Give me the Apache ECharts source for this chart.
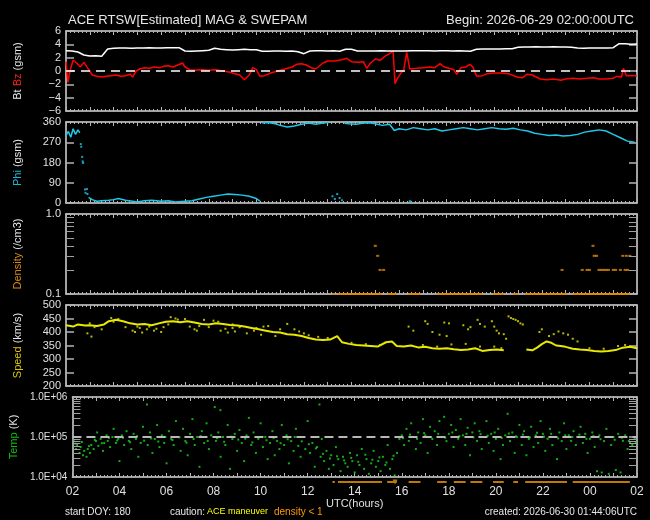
<!DOCTYPE html>
<html><head><meta charset="utf-8">
<script src="https://cdn.jsdelivr.net/npm/echarts@6/dist/echarts.min.js"></script>
<style>html,body{margin:0;padding:0;background:#000;}#c{width:650px;height:520px;}</style>
</head><body><div id="c"></div>
<script>
// ---------------- DATA (hours after 02:00 UTC) ----------------
const xTickLabels = ['02','04','06','08','10','12','14','16','18','20','22','00','02'];
const btStep = 0.25;
const btValues = [3.05,3.0,2.85,2.4,2.25,2.3,2.2,3.3,3.4,3.45,3.45,3.4,3.45,3.45,3.5,3.45,3.45,3.5,3.5,3.5,
 3.0,2.95,3.0,3.05,3.1,3.4,3.25,3.2,3.15,3.2,3.25,3.2,3.2,2.95,2.95,3.0,3.0,2.95,3.0,2.9,
 2.6,3.0,3.05,3.05,3.0,3.05,2.95,3.25,3.25,3.0,3.0,3.0,3.0,3.05,3.0,3.0,3.0,3.0,3.05,3.05,
 3.05,3.05,3.0,3.05,3.05,3.0,3.05,3.0,2.95,3.25,3.3,3.3,3.3,3.3,3.35,3.35,3.55,3.6,3.6,3.65,
 3.6,3.6,3.65,3.6,3.6,3.55,3.45,3.4,3.45,3.45,3.45,3.45,3.5,4.1,4.1,4.0,4.05];
const bzPoints = [[0,1.4],[0.08,-1.7],[0.18,0.2],[0.3,1.6],[0.45,1.2],[0.6,0.6],[0.75,1.3],[0.9,0.5],[1.0,0.0],[1.1,-0.6],
 [1.3,-0.8],[1.5,-0.9],[1.7,-0.8],[1.9,-0.7],[2.1,-0.6],[2.3,-0.8],[2.5,-0.7],[2.7,-0.5],[2.8,-0.9],[2.95,0.0],
 [3.1,0.3],[3.3,0.5],[3.5,0.4],[3.7,0.6],[3.95,0.5],[4.1,0.7],[4.3,0.8],[4.5,0.6],[4.7,0.9],[4.9,1.2],
 [5.0,0.6],[5.2,0.2],[5.4,0.1],[5.7,0.2],[6.0,0.1],[6.3,0.2],[6.6,0.0],[6.9,-0.2],[7.1,-0.4],[7.3,-0.6],
 [7.5,-1.3],[7.7,-0.6],[7.85,0.5],[8.0,0.2],[8.15,-0.8],[8.35,-0.7],[8.6,-0.3],[8.9,0.0],[9.2,0.3],[9.5,0.6],
 [9.7,1.0],[9.9,1.1],[10.1,0.9],[10.3,0.5],[10.5,0.3],[10.8,1.2],[11.0,1.5],[11.3,1.5],[11.6,1.7],[11.8,1.9],
 [12.0,1.4],[12.3,1.3],[12.5,1.4],[12.64,0.4],[12.8,1.2],[13.0,1.8],[13.2,1.6],[13.4,2.2],[13.6,2.6],[13.75,3.0],
 [13.83,-1.9],[13.95,-1.0],[14.1,-0.2],[14.2,0.2],[14.32,2.8],[14.45,0.3],[14.74,0.4],[15.0,0.5],[15.3,0.6],[15.5,0.5],
 [15.72,1.1],[15.9,0.6],[16.1,0.4],[16.3,0.2],[16.42,-0.5],[16.6,0.5],[16.8,0.6],[16.98,1.0],[17.1,0.6],[17.26,-0.8],
 [17.5,-0.7],[17.7,-0.4],[18.0,-0.3],[18.3,-0.3],[18.6,-0.4],[18.95,-0.9],[19.2,-1.0],[19.37,-0.5],[19.6,-0.6],[19.93,-1.2],
 [20.2,-1.3],[20.5,-1.2],[20.8,-1.4],[21.0,-1.2],[21.33,-1.1],[21.6,-1.2],[21.9,-1.1],[22.17,-1.0],[22.4,-1.2],[22.7,-1.2],
 [23.0,-1.1],[23.15,-0.8],[23.35,-0.9],[23.43,0.4],[23.55,-0.7],[23.71,-0.7],[23.99,-0.7]];
const phiTrace = [[0,300],[0.1,318],[0.2,292],[0.3,330],[0.4,305],[0.5,325],[0.58,312],[0.6,'-'],
 [0.95,25],[1.1,15],[1.3,8],[1.5,10],[1.8,12],[2.0,15],[2.2,20],[2.5,12],[2.8,8],[3.0,5],[3.3,10],[3.6,12],
 [4.0,8],[4.3,10],[4.6,5],[5.0,8],[5.3,10],[5.6,18],[5.9,25],[6.2,30],[6.5,35],[6.8,40],[7.1,38],[7.4,35],
 [7.7,30],[8.0,20],[8.15,8],[8.2,'-'],
 [8.25,356],[8.5,358],[8.8,352],[9.0,345],[9.3,338],[9.6,342],[9.9,350],[10.2,355],[10.5,350],[10.8,355],[11.05,358],[11.1,'-'],
 [11.7,354],[11.9,352],[12.2,350],[12.5,355],[12.8,357],[13.0,352],[13.3,345],[13.6,350],[13.8,322],[14.0,330],
 [14.3,325],[14.6,335],[14.9,330],[15.2,325],[15.5,330],[15.8,320],[16.1,325],[16.4,330],[16.7,335],[17.0,330],
 [17.3,325],[17.6,330],[17.9,335],[18.2,330],[18.5,328],[18.8,332],[19.1,325],[19.4,320],[19.7,310],[20.0,305],
 [20.3,300],[20.6,302],[20.9,298],[21.2,300],[21.5,305],[21.8,315],[22.1,320],[22.4,325],[22.7,320],[23.0,305],
 [23.3,290],[23.6,275],[23.9,270]];
const phiSparse = [[0.62,262],[0.64,250],[0.68,205],[0.7,185],[0.72,178],[0.8,60],[0.82,45],[0.88,62],[0.9,40],
 [11.2,30],[11.3,18],[11.4,40],[11.5,22],[11.6,12],[14.45,8],[14.5,5]];
const densityFloor = [[11.2,0.1],[11.3,0.1],[11.35,'-'],[11.43,0.1],[13.28,0.1],[13.4,'-'],[13.5,0.1],[13.9,0.1],[14.1,'-'],
 [14.4,0.1],[14.9,0.1],[15.2,'-'],[15.6,0.1],[17.5,0.1],[17.7,'-'],[17.95,0.1],[18.4,0.1],[18.6,'-'],[18.8,0.1],[19.0,0.1],
 [19.15,'-'],[19.3,0.1],[21.06,0.1],[21.2,'-'],[21.3,0.1],[23.7,0.1]];
const densityPoints = [[13.0,0.4],[13.1,0.3],[13.2,0.2],[13.35,0.2],[20.85,0.2],[21.7,0.2],[21.9,0.2],[22.0,0.2],[22.15,0.4],
 [22.2,0.3],[22.3,0.3],[22.4,0.2],[22.5,0.2],[22.6,0.2],[22.7,0.2],[22.8,0.2],[23.0,0.2],[23.1,0.2],[23.3,0.2],[23.4,0.3],
 [23.5,0.2],[23.55,0.3],[23.6,0.2],[23.7,0.3]];
const speedBand = [[0,425],[0.3,420],[0.5,428],[0.8,424],[1.0,425],[1.3,422],[1.6,428],[1.8,440],[2.1,445],[2.4,440],
 [2.7,432],[3.0,428],[3.3,430],[3.6,425],[3.9,432],[4.2,438],[4.5,440],[4.8,436],[5.1,440],[5.4,435],[5.7,430],[6.0,428],
 [6.3,432],[6.6,430],[6.9,426],[7.2,424],[7.5,420],[7.8,415],[8.1,410],[8.4,405],[8.7,400],[9.0,398],[9.3,392],[9.6,390],
 [9.9,385],[10.2,378],[10.5,372],[10.8,370],[11.1,372],[11.4,385],[11.6,362],[11.9,356],[12.2,352],[12.5,350],[12.8,348],
 [13.1,346],[13.45,362],[13.7,365],[13.9,348],[14.2,346],[14.5,350],[14.8,343],[15.1,345],[15.4,340],[15.7,338],[16.0,340],
 [16.3,336],[16.6,333],[16.9,335],[17.2,340],[17.5,330],[17.8,333],[18.1,335],[18.4,332],[18.55,'-'],[19.35,335],[19.6,332],
 [19.8,342],[20.0,355],[20.2,365],[20.4,360],[20.6,350],[20.8,348],[21.0,345],[21.3,338],[21.6,335],[21.9,333],[22.2,330],
 [22.5,328],[22.8,330],[23.1,333],[23.4,342],[23.7,345],[24.0,340]];
const speedScatter = [[0.9,395],[1.07,383],[1.2,418],[1.5,410],[1.9,452],[2.2,448],[2.5,418],[2.8,405],[2.9,400],[3.1,415],
 [3.2,398],[3.4,410],[3.5,420],[3.7,405],[3.8,412],[4.0,400],[4.1,418],[4.4,455],[4.6,450],[4.7,446],[5.0,448],[5.2,420],
 [5.4,410],[5.5,405],[5.8,445],[6.0,418],[6.2,442],[6.4,438],[6.5,405],[6.7,412],[6.8,398],[7.0,415],[7.1,402],[7.3,418],
 [7.6,395],[7.9,405],[8.2,390],[8.3,420],[8.5,422],[8.8,385],[9.0,410],[9.3,430],[9.6,410],[9.8,402],[10.0,395],[10.2,388],
 [10.6,382],[11.0,378],[14.4,420],[14.6,405],[15.1,440],[15.2,430],[15.4,400],[15.7,390],[15.9,435],[16.0,385],[16.1,432],
 [16.7,425],[16.9,410],[17.0,418],[17.3,445],[17.4,430],[17.6,420],[17.9,440],[18.0,420],[18.1,405],[18.2,395],[18.4,392],
 [18.5,375],[18.6,458],[18.7,452],[18.8,448],[18.9,445],[19.0,440],[19.1,432],[19.2,428],[19.9,400],[20.0,410],[20.3,385],
 [20.5,392],[20.7,402],[20.9,395],[21.1,390],[21.3,375],[21.5,365],[15.0,352],[15.6,346],[16.2,354],[16.8,356],[17.4,346],
 [18.0,346],[18.3,340],[22.0,340],[22.6,338],[23.2,348],[23.5,352],[12.0,360],[12.6,355],[13.2,352],[1.0,432],[2.0,438],
 [3.0,420],[4.3,428],[5.6,422],[7.0,428],[8.0,415]];
const tempPoints = [[0.05,7.9e4],[0.15,5.0e4],[0.2,6.3e4],[0.3,4.0e4],[0.35,5.6e4],[0.45,3.5e4],[0.5,4.5e4],[0.6,3.2e4],
 [0.65,5.0e4],[0.75,4.0e4],[0.8,6.3e4],[0.9,5.0e4],[1.0,7.9e4],[1.05,1.3e5],[1.1,6.0e4],[1.2,9.0e4],[1.3,4.5e4],[1.35,7.1e4],
 [1.45,1.1e5],[1.5,8.0e4],[1.6,5.6e4],[1.7,1.0e5],[1.75,1.6e5],[1.85,7.1e4],[1.95,9.0e4],[2.0,2.5e4],[2.1,1.1e5],[2.2,6.3e4],
 [2.3,1.4e5],[2.4,8.0e4],[2.5,5.0e4],[2.6,1.2e5],[2.7,9.0e4],[2.8,3.2e4],[2.9,7.1e4],[3.0,1.8e5],[3.1,1.0e5],[3.17,6.5e5],
 [3.2,6.3e4],[3.3,1.3e5],[3.4,4.0e4],[3.5,8.9e4],[3.6,2.0e5],[3.7,5.6e4],[3.8,1.1e5],[3.9,7.1e4],[4.0,2.2e4],[4.1,1.4e5],
 [4.2,9.0e4],[4.3,6.3e4],[4.4,2.5e5],[4.5,1.0e5],[4.6,4.5e4],[4.7,1.6e5],[4.8,7.9e4],[4.9,3.5e4],[5.0,1.2e5],[5.1,2.8e5],
 [5.2,6.3e4],[5.3,1.0e5],[5.4,1.8e4],[5.5,1.4e5],[5.6,7.1e4],[5.7,2.2e5],[5.8,5.0e4],[5.9,1.1e5],[6.05,5.6e5],[6.1,8.0e4],
 [6.2,1.3e5],[6.29,4.7e5],[6.3,3.2e4],[6.4,1.0e5],[6.5,6.3e4],[6.6,2.0e5],[6.7,1.6e4],[6.8,8.9e4],[6.9,1.2e5],[7.0,4.5e4],
 [7.1,1.5e5],[7.2,7.1e4],[7.3,2.5e4],[7.4,1.1e5],[7.5,3.0e5],[7.6,6.3e4],[7.7,1.3e5],[7.8,4.0e4],[7.9,9.0e4],[8.0,2.2e5],
 [8.1,5.6e4],[8.2,1.0e5],[8.3,2.8e4],[8.4,7.1e4],[8.5,1.4e5],[8.6,3.5e4],[8.7,8.0e4],[8.8,5.0e4],[8.9,2.0e5],[9.0,6.3e4],
 [9.1,1.1e5],[9.2,2.2e4],[9.3,7.9e4],[9.4,4.5e4],[9.5,1.6e5],[9.6,6.0e4],[9.7,3.2e4],[9.8,1.0e5],[9.9,5.0e4],[10.0,2.5e5],
 [10.1,4.0e4],[10.2,7.1e4],[10.3,1.8e4],[10.4,5.6e4],[10.5,6.5e5],[10.55,3.2e4],[10.6,8.9e4],[10.7,2.5e4],[10.8,4.5e4],
 [10.9,1.6e4],[11.0,3.5e4],[11.1,2.0e4],[11.2,5.6e4],[11.3,2.8e4],[11.4,1.4e4],[11.5,3.2e4],[11.6,2.2e4],[11.7,1.8e4],
 [11.8,4.0e4],[11.9,2.5e4],[12.0,1.3e4],[12.1,3.5e4],[12.2,2.0e4],[12.3,5.0e4],[12.4,1.6e4],[12.5,2.8e4],[12.6,1.2e4],
 [12.7,2.2e4],[12.8,4.5e4],[12.9,1.8e4],[13.0,2.5e4],[13.1,1.4e4],[13.2,3.2e4],[13.3,2.0e4],[13.4,6.3e4],[13.5,1.6e4],
 [13.6,2.8e4],[13.7,1.1e4],[13.8,4.0e4],[13.9,8.9e4],[14.0,1.1e5],[14.1,6.3e4],[14.2,1.6e5],[14.3,8.0e4],[14.4,2.2e5],
 [14.5,1.0e5],[14.6,5.0e4],[14.7,1.3e5],[14.8,7.1e4],[14.9,2.8e5],[15.0,1.1e5],[15.1,4.0e4],[15.2,1.8e5],[15.3,8.9e4],
 [15.4,1.4e5],[15.5,6.3e4],[15.6,2.5e5],[15.7,1.0e5],[15.8,3.2e5],[15.9,7.9e4],[16.0,1.2e5],[16.1,2.0e5],[16.2,5.6e4],
 [16.3,1.5e5],[16.4,9.0e4],[16.5,2.8e5],[16.6,1.1e5],[16.7,6.3e4],[16.8,1.7e5],[16.9,3.5e4],[17.0,1.3e5],[17.1,2.2e5],
 [17.2,8.0e4],[17.3,1.4e5],[17.4,5.0e4],[17.5,1.0e5],[17.6,2.5e5],[17.7,7.1e4],[17.8,1.2e5],[17.9,4.5e4],[18.0,9.0e4],
 [18.1,1.6e5],[18.2,2.8e4],[18.3,6.3e4],[18.4,1.1e5],[18.5,3.8e5],[18.6,7.9e4],[18.7,1.3e5],[18.8,4.0e4],[18.9,1.0e5],
 [19.0,2.0e5],[19.1,6.3e4],[19.2,1.4e5],[19.3,3.5e4],[19.4,8.9e4],[19.5,1.8e5],[19.6,5.6e4],[19.7,1.1e5],[19.8,7.1e4],
 [19.9,2.5e5],[20.0,1.2e5],[20.1,4.5e4],[20.2,9.0e4],[20.3,1.6e5],[20.4,6.3e4],[20.5,1.0e5],[20.6,2.8e4],[20.7,1.3e5],
 [20.8,7.9e4],[20.9,2.2e5],[21.0,5.0e4],[21.1,1.1e5],[21.2,8.0e4],[21.3,1.4e5],[21.4,6.3e4],[21.5,1.0e5],[21.6,1.8e5],
 [21.7,7.1e4],[21.8,1.2e5],[21.9,4.0e4],[22.0,9.0e4],[22.1,1.3e5],[22.2,5.6e4],[22.3,1.4e4],[22.4,1.1e5],[22.5,1.3e4],
 [22.6,7.9e4],[22.7,1.6e5],[22.8,1.2e4],[22.9,6.3e4],[23.0,1.0e5],[23.1,1.5e4],[23.2,1.2e5],[23.3,1.3e4],[23.4,8.0e4],
 [23.5,1.1e5],[23.6,5.0e4],[23.7,7.1e4],[23.8,6.3e4],[23.9,9.0e4]];
const tempCore = [[0.12,6.8e4],[0.4,7.5e4],[0.7,5.9e4],[0.95,8.5e4],[1.25,7.0e4],[1.55,9.5e4],[1.9,8.2e4],[2.15,9.6e4],
 [2.45,7.4e4],[2.75,1.05e5],[3.05,8.1e4],[3.35,9.2e4],[3.65,7.7e4],[3.95,1.0e5],[4.25,8.4e4],[4.55,9.8e4],[4.85,7.2e4],
 [5.15,8.9e4],[5.45,1.05e5],[5.75,8.0e4],[6.15,9.4e4],[6.45,7.6e4],[6.75,1.02e5],[7.05,8.6e4],[7.35,9.1e4],[7.65,7.3e4],
 [7.95,9.9e4],[8.25,8.3e4],[8.55,9.5e4],[8.85,7.0e4],[9.15,8.8e4],[9.45,1.0e5],[9.75,7.8e4],[10.05,6.6e4],[10.35,5.2e4],
 [10.65,3.8e4],[10.95,2.9e4],[11.25,3.3e4],[11.55,2.6e4],[11.85,3.0e4],[12.15,2.4e4],[12.45,3.6e4],[12.75,2.7e4],
 [13.05,3.1e4],[13.35,2.3e4],[13.65,3.4e4],[14.05,9.4e4],[14.35,1.15e5],[14.65,9.0e4],[14.95,1.25e5],[15.25,1.0e5],
 [15.55,1.2e5],[15.85,9.6e4],[16.15,1.3e5],[16.45,1.05e5],[16.75,1.2e5],[17.05,9.8e4],[17.35,1.18e5],[17.65,1.08e5],
 [17.95,1.3e5],[18.25,9.5e4],[18.55,1.22e5],[18.85,1.04e5],[19.15,1.15e5],[19.45,9.7e4],[19.75,1.28e5],[20.05,1.02e5],
 [20.35,1.2e5],[20.65,9.2e4],[20.95,1.1e5],[21.25,1.0e5],[21.55,1.15e5],[21.85,9.0e4],[22.15,1.05e5],[22.45,8.8e4],
 [22.75,1.0e5],[23.05,8.5e4],[23.35,9.6e4],[23.65,8.0e4],[23.95,7.5e4]];
const lowDensityFlag = [[11.2,0.5],[11.3,0.5],[11.35,'-'],[11.43,0.5],[13.28,0.5],[13.4,'-'],[13.5,0.5],[13.9,0.5],[14.1,'-'],
 [14.4,0.5],[14.9,0.5],[15.2,'-'],[15.6,0.5],[16.0,0.5],[16.1,'-'],[16.3,0.5],[16.8,0.5],[16.9,'-'],[17.0,0.5],[17.5,0.5],
 [17.7,'-'],[17.95,0.5],[18.4,0.5],[18.6,'-'],[18.8,0.5],[19.0,0.5],[19.15,'-'],[19.3,0.5],[21.06,0.5],[21.2,'-'],[21.3,0.5],[23.7,0.5]];
const maneuverMarks = [[13.83,0.5]];

// ---------------- STYLE ----------------
const FF = '"Liberation Sans", Arial, sans-serif';
const AX = '#d8d8d8', TK = '#b4b4b4', TX = '#e0e0e0';
const G = [[31,80],[122,81],[214,80],[305,81],[397,80]];
const grids = G.map(g => ({left:66, right:13, top:g[0], height:g[1]}));
grids.push({left:66, right:13, top:479, height:6});

const xAxes = [];
G.forEach((g,i) => {
  ['bottom','top'].forEach(pos => {
    const lab = (i === 4 && pos === 'bottom');
    xAxes.push({type:'value', gridIndex:i, position:pos, min:0, max:24, interval:1,
      axisLine:{show:true, onZero:false, lineStyle:{color:AX, width:1.5}},
      axisTick:{show:true, inside:true, length:4, lineStyle:{color:TK}},
      minorTick:{show:true, splitNumber:6, length:2, lineStyle:{color:TK}},
      splitLine:{show:false},
      name: lab ? 'UTC(hours)' : '', nameLocation:'middle', nameGap:21,
      nameTextStyle:{color:TX, fontSize:11, fontFamily:FF},
      axisLabel: lab ? {show:true, margin:9, color:TX, fontSize:12, fontFamily:FF, showMinLabel:true, showMaxLabel:true,
        formatter: v => (v % 2 === 0 ? xTickLabels[v/2] : '')} : {show:false}});
  });
});
xAxes.push({type:'value', gridIndex:5, min:0, max:24, show:false});

const richBase = {fontSize:11, fontFamily:FF};
const rich = {
  w:Object.assign({color:'#e8e8e8'}, richBase), r:Object.assign({color:'#ff2020'}, richBase),
  c:Object.assign({color:'#19b6d6'}, richBase), o:Object.assign({color:'#d88a10'}, richBase),
  y:Object.assign({color:'#d8c800'}, richBase), g:Object.assign({color:'#10c010'}, richBase)
};
const yCfg = [
  {type:'value', min:-6, max:6, interval:2, name:'{w|Bt} {r|Bz} {w|(gsm)}', fmt: v => String(v).replace('-', '\u2212')},
  {type:'value', min:0, max:360, interval:90, name:'{c|Phi} {w|(gsm)}', fmt: v => String(v)},
  {type:'log', min:0.1, max:1, name:'{o|Density} {w|(/cm3)}', fmt: v => v.toFixed(1)},
  {type:'value', min:200, max:500, interval:50, name:'{y|Speed} {w|(km/s)}', fmt: v => String(v)},
  {type:'log', min:1e4, max:1e6, name:'{g|Temp} {w|(K)}', fmt: v => '1.0E+' + String(Math.round(Math.log10(v))).padStart(2,'0')}
];
const yAxes = [];
yCfg.forEach((c,i) => {
  ['left','right'].forEach(pos => {
    const ax = {type:c.type, gridIndex:i, position:pos, min:c.min, max:c.max,
      axisLine:{show:true, onZero:false, lineStyle:{color:AX, width:1.5}},
      axisTick:{show:true, inside:true, length:8, lineStyle:{color:TK, width:1.5}},
      splitLine:{show:false},
      axisLabel: pos === 'left' ? {show:true, margin:5, color:TX, fontSize: i === 4 ? 10 : 11, fontFamily:FF,
        showMinLabel:true, showMaxLabel:true, formatter:c.fmt} : {show:false}};
    if (c.interval) ax.interval = c.interval;
    if (c.type === 'log') ax.logBase = 10;
    if (pos === 'left') {
      ax.name = c.name; ax.nameLocation = 'middle'; ax.nameGap = 43;
      ax.nameTextStyle = {rich:rich, fontSize:11, fontFamily:FF};
    }
    yAxes.push(ax);
  });
});
yAxes.push({type:'value', gridIndex:5, min:0, max:1, show:false});

// minor log ticks (axis decoration) as short mark-line segments at both sides
function logMinorTicks(decades) {
  const out = [];
  decades.forEach(d => {
    for (let k = 2; k <= 9; k++) {
      const m = k * d;
      out.push([{coord:[0, m]}, {coord:[0.34, m]}]);
      out.push([{coord:[23.66, m]}, {coord:[24, m]}]);
    }
  });
  return out;
}
const tickLine = {color:'#a0a0a0', width:1, type:'solid'};

const series = [
  {type:'line', name:'Bt', xAxisIndex:0, yAxisIndex:0, data: btValues.map((v,i) => [i*btStep, v]),
    showSymbol:false, lineStyle:{color:'#ffffff', width:1.5}, z:3},
  {type:'line', name:'Bz', xAxisIndex:0, yAxisIndex:0, data: bzPoints, showSymbol:false,
    lineStyle:{color:'#ff0000', width:1.5}, z:2,
    markLine:{silent:true, symbol:'none', label:{show:false}, animation:false,
      lineStyle:{color:'#ffffff', width:1.5, type:[9,6]}, data:[{yAxis:0}]}},
  {type:'line', name:'Phi', xAxisIndex:2, yAxisIndex:2, data: phiTrace, showSymbol:false, connectNulls:false,
    lineStyle:{color:'#1ec8e8', width:1.5}},
  {type:'scatter', name:'PhiSparse', xAxisIndex:2, yAxisIndex:2, data: phiSparse, symbol:'rect', symbolSize:2,
    itemStyle:{color:'#1ec8e8'}},
  {type:'line', name:'DensityFloor', xAxisIndex:4, yAxisIndex:4, data: densityFloor, showSymbol:false, connectNulls:false,
    lineStyle:{color:'#e08a00', width:2}, clip:false,
    markLine:{silent:true, symbol:'none', label:{show:false}, animation:false, lineStyle:tickLine, data: logMinorTicks([0.1])}},
  {type:'scatter', name:'Density', xAxisIndex:4, yAxisIndex:4, data: densityPoints, symbol:'rect', symbolSize:[3,2],
    itemStyle:{color:'#e08a00'}},
  {type:'line', name:'SpeedBand', xAxisIndex:6, yAxisIndex:6, data: speedBand, showSymbol:false, connectNulls:false,
    lineStyle:{color:'#e8e800', width:2}},
  {type:'scatter', name:'Speed', xAxisIndex:6, yAxisIndex:6, data: speedScatter, symbol:'rect', symbolSize:2,
    itemStyle:{color:'#e8e800'}},
  {type:'scatter', name:'Temp', xAxisIndex:8, yAxisIndex:8, data: tempPoints, symbol:'rect', symbolSize:2,
    itemStyle:{color:'#18d818'},
    markLine:{silent:true, symbol:'none', label:{show:false}, animation:false, lineStyle:tickLine,
      data: [{yAxis:1e5, lineStyle:{color:'#b8b8b8', width:2, type:[9,5]}}].concat(logMinorTicks([1e4,1e5]))}},
  {type:'scatter', name:'TempCore', xAxisIndex:8, yAxisIndex:8, data: tempCore, symbol:'rect', symbolSize:2,
    itemStyle:{color:'#18d818'}},
  {type:'line', name:'LowDensityFlag', xAxisIndex:10, yAxisIndex:10, data: lowDensityFlag, showSymbol:false,
    connectNulls:false, lineStyle:{color:'#c07800', width:2}},
  {type:'scatter', name:'Maneuver', xAxisIndex:10, yAxisIndex:10, data: maneuverMarks, symbol:'triangle',
    symbolRotate:180, symbolSize:5, itemStyle:{color:'#d0a000'}}
];

const txt = (s, x, y, color, size, align) => ({type:'text', silent:true,
  style:{text:s, x:x, y:y, fill:color, font: size + 'px ' + FF, textAlign:align || 'left', align:align || 'left',
    textVerticalAlign:'middle', verticalAlign:'middle'}});

const chart = echarts.init(document.getElementById('c'), null, {renderer:'canvas'});
chart.setOption({
  backgroundColor:'#000000',
  animation:false,
  grid: grids,
  xAxis: xAxes,
  yAxis: yAxes,
  series: series,
  graphic: [
    txt('ACE RTSW[Estimated] MAG & SWEPAM', 68, 20, '#e8e8e8', 13),
    txt('Begin: 2026-06-29 02:00:00UTC', 634, 20, '#e8e8e8', 13, 'right'),
    txt('start DOY: 180', 65, 512, '#e8e8e8', 10),
    txt('caution:', 170, 512, '#e8e8e8', 10),
    txt('ACE maneuver', 207, 512, '#ffff00', 9),
    txt('density < 1', 274, 512, '#ff9900', 10),
    txt('created: 2026-06-30 01:44:06UTC', 637, 512, '#e8e8e8', 10, 'right')
  ]
});
</script></body></html>
